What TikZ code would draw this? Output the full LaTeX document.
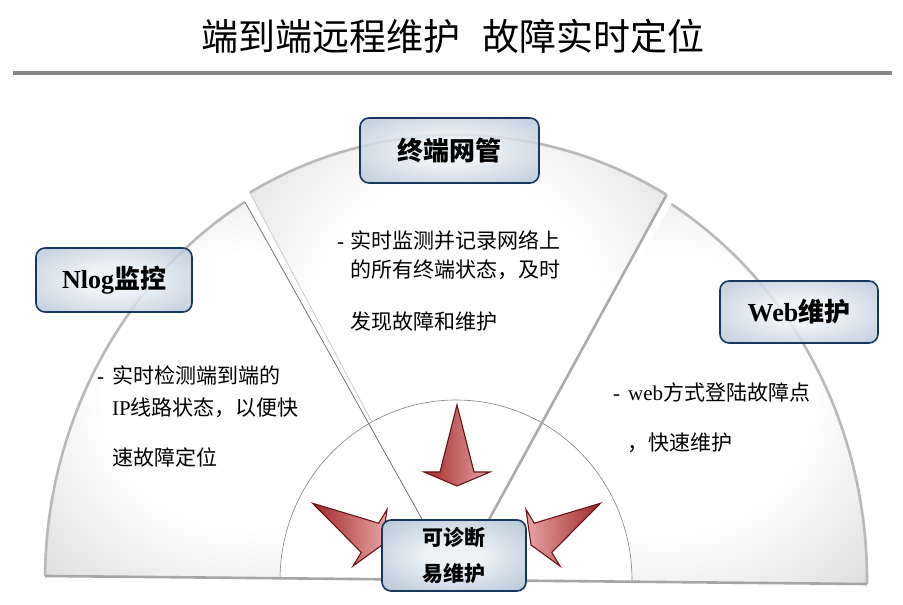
\documentclass[tikz,border=0pt]{standalone}
\usepackage{fontspec}
\setmainfont{Liberation Serif}
\newfontfamily\cjk{Noto Sans CJK SC}
\definecolor{boxline}{RGB}{23,55,94}
\definecolor{boxin}{RGB}{236,241,246}
\definecolor{boxout}{RGB}{150,172,197}
\definecolor{arrdark}{RGB}{160,40,40}
\definecolor{arrlight}{RGB}{232,165,165}
\definecolor{arrline}{RGB}{105,20,20}
\pgfdeclareradialshading{sectorshade}{\pgfpoint{0bp}{0bp}}{color(0bp)=(white); color(18bp)=(white); color(45bp)=(gray!40); color(70bp)=(gray!40)}
\pgfdeclareradialshading{boxshade}{\pgfpoint{0bp}{0bp}}{color(0bp)=(boxin); color(10bp)=(boxin); color(50bp)=(boxout); color(70bp)=(boxout)}

\begin{document}
\begin{tikzpicture}[x=1pt,y=1pt]

	\tikzstyle{sector}=[shading=sectorshade]
	\tikzstyle{rim}=[gray!55,line width=2.6pt]
	\tikzstyle{titlebox}=[draw=boxline,line width=1.6pt,rounded corners=9pt,shading=boxshade,fill opacity=0.85,text opacity=1,inner sep=0pt]
	\tikzstyle{bodytext}=[anchor=west,inner sep=0pt,font=\fontsize{21}{24}\selectfont]
	\tikzstyle{redarrow}=[draw=arrline,line width=1.1pt,line join=miter]

	\useasboundingbox (0,0) rectangle (903,605);

	\node[font=\cjk\fontsize{37}{40}\selectfont] (title) at (453,569) {端到端远程维护\hspace{0.6em}故障实时定位};
	\draw[gray!95,line width=4pt] (13,532) -- (892,532);

	\begin{scope}[shift={(456,25)},rotate=-0.56]
		\shade[sector] (0,0) -- (-411,0) arc[start angle=180,end angle=121.5,x radius=411,y radius=441] -- cycle;
		\shade[sector] (0,0) -- ({420*cos(120)},{445*sin(120)}) arc[start angle=120,end angle=60.5,x radius=420,y radius=445] -- cycle;
		\shade[sector] (0,0) -- ({411*cos(59)},{441*sin(59)}) arc[start angle=59,end angle=0,x radius=411,y radius=441] -- cycle;
		\draw[gray!40,line width=0.8pt] (0,0) -- ({420*cos(120)},{445*sin(120)});
		%\draw[very thin,help lines] (-411,0) grid (411,445);
		\fill[white] (-176,0) arc[start angle=180,end angle=0,x radius=176,y radius=180] -- cycle;
		\draw[gray,line width=0.6pt] (-176,0) arc[start angle=180,end angle=0,x radius=176,y radius=180];
		\draw[gray!80!black,line width=0.7pt] (0,0) -- ({411*cos(121.5)},{441*sin(121.5)});
		\draw[gray!65,line width=2.6pt] (0,0) -- ({420*cos(60.5)},{445*sin(60.5)});
		\draw[rim] (-411,0) arc[start angle=180,end angle=121.5,x radius=411,y radius=441];
		\draw[rim] ({420*cos(120)},{445*sin(120)}) arc[start angle=120,end angle=60.5,x radius=420,y radius=445];
		\draw[rim] ({411*cos(59)},{441*sin(59)}) arc[start angle=59,end angle=0,x radius=411,y radius=441];
		\draw[gray!70,line width=2.6pt] (-411,0) -- (411,0);
	\end{scope}

	\foreach \px / \py / \ang / \ca / \cb in {457/119/-90/arrdark/arrlight,382/60/-31/arrdark/arrlight,531/60/-149/arrlight/arrdark}{ \shade[redarrow,left color=\ca,right color=\cb,shift={(\px,\py)},rotate=\ang] (0,0) -- (-14,33) -- (-14,17) -- (-81,0) -- (-14,-17) -- (-14,-33) -- cycle;}

	\node[titlebox,minimum width=179,minimum height=65] (mgmt) at (449.5,454.5) {\cjk\bfseries\fontsize{26}{28}\selectfont 终端网管};
	\node[titlebox,minimum width=156,minimum height=64] (nlog) at (114,325) {\fontsize{26}{28}\selectfont\bfseries Nlog{\cjk 监控}};
	\node[titlebox,minimum width=158,minimum height=62] (web) at (799,293) {\fontsize{26}{28}\selectfont\bfseries Web{\cjk 维护}};
	\node[titlebox,fill opacity=1,minimum width=144,minimum height=71,align=center,font=\cjk\bfseries\fontsize{21}{36}\selectfont] (diag) at (454,49.5) {可诊断\\易维护};

	\node[bodytext] (l1) at (97,230) {\makebox[15pt][l]{-}\cjk 实时检测端到端的};
	\node[bodytext] (l2) at (112,197) {IP{\cjk 线路状态，以便快}};
	\node[bodytext] (l3) at (112,148) {\cjk 速故障定位};
	\node[bodytext] (m1) at (337,365) {\makebox[13pt][l]{-}\cjk 实时监测并记录网络上};
	\node[bodytext] (m2) at (350,335) {\cjk 的所有终端状态，及时};
	\node[bodytext] (m3) at (350,283) {\cjk 发现故障和维护};
	\node[bodytext] (r1) at (613,213) {\makebox[15pt][l]{-}web{\cjk 方式登陆故障点}};
	\node[bodytext] (r2) at (627,162) {\cjk ，快速维护};
\end{tikzpicture}
\end{document}
